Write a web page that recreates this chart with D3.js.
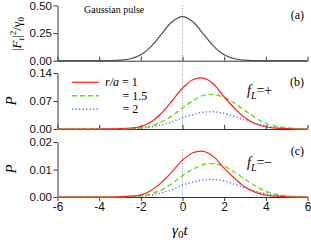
<!DOCTYPE html>
<html>
<head>
<meta charset="utf-8">
<script src="https://cdn.jsdelivr.net/npm/d3@7"></script>
<style>
  body { margin: 0; background: #fff; }
  svg { display: block; }
</style>
</head>
<body>
<script>
// time axis (gamma0 t), sampled every 0.5
const times = [-6, -5.5, -5, -4.5, -4, -3.5, -3, -2.5, -2, -1.5, -1, -0.5, 0,
  0.5, 1, 1.5, 2, 2.5, 3, 3.5, 4, 4.5, 5, 5.5, 6];

// panel (a) gaussian pulse
const pulse = [0, 0, 0, 0, 0.0001, 0.0009, 0.0044, 0.0175, 0.054, 0.13, 0.242, 0.352, 0.399,
  0.352, 0.242, 0.13, 0.054, 0.0175, 0.0044, 0.0009, 0.0001, 0, 0, 0, 0];

// panel (b) f_L = +
const plusR1 = [0, 0, 0, 0, 0, 0.0003, 0.001, 0.0025, 0.006, 0.018, 0.04, 0.07, 0.1025,
  0.123, 0.127, 0.112, 0.08, 0.052, 0.028, 0.013, 0.005, 0.002, 0.001, 0, 0];
const plusR15 = [0, 0, 0, 0, 0, 0, 0.0005, 0.001, 0.003, 0.008, 0.018, 0.033, 0.0525,
  0.071, 0.084, 0.086, 0.079, 0.064, 0.046, 0.028, 0.014, 0.007, 0.003, 0.001, 0];
const plusR2 = [0, 0, 0, 0, 0, 0, 0, 0.0005, 0.002, 0.005, 0.01, 0.018, 0.028,
  0.036, 0.042, 0.043, 0.039, 0.031, 0.022, 0.014, 0.008, 0.004, 0.002, 0.001, 0];

// panel (c) f_L = -
const minusR1 = [0, 0, 0, 0, 0, 0, 0.0001, 0.0003, 0.0008, 0.0024, 0.0053, 0.0092, 0.0134,
  0.0161, 0.0166, 0.0146, 0.0104, 0.0068, 0.0036, 0.0017, 0.0007, 0.0003, 0.0001, 0, 0];
const minusR15 = [0, 0, 0, 0, 0, 0, 0.0001, 0.0002, 0.0004, 0.0012, 0.0026, 0.0049, 0.0078,
  0.0101, 0.0118, 0.0121, 0.0111, 0.009, 0.0065, 0.004, 0.002, 0.001, 0.0004, 0.0001, 0];
const minusR2 = [0, 0, 0, 0, 0, 0, 0, 0.0001, 0.0003, 0.0007, 0.0015, 0.0027, 0.0043,
  0.0054, 0.0062, 0.0064, 0.0058, 0.0046, 0.0033, 0.0021, 0.0012, 0.0006, 0.0003, 0.0001, 0];

const xTicks = [-6, -4, -2, 0, 2, 4, 6];
const ticksA = [0, 0.25, 0.5];
const ticksB = [0, 0.07, 0.14];
const ticksC = [0, 0.01, 0.02];
const legendLabels = ["r/a = 1", "= 1.5", "= 2"];

const width = 311;
const height = 249;

const svg = d3.select("body").append("svg")
  .attr("width", width)
  .attr("height", height);

const x = d3.scaleLinear().domain([-6, 6]).range([57.5, 307.5]);

const panels = [
  { id: "a", top: 5.5, bottom: 60.7, max: 0.5, ticks: ticksA, fmt: ".2f" },
  { id: "b", top: 73, bottom: 129, max: 0.14, ticks: ticksB, fmt: ".2f" },
  { id: "c", top: 142, bottom: 197, max: 0.02, ticks: ticksC, fmt: ".2f" }
];

const styles = [
  { color: "#ff2020", dash: null, w: 1.2 },
  { color: "#66dd11", dash: "5,3", w: 1.4 },
  { color: "#4d6bff", dash: "1.2,2.3", w: 1.4 }
];

const line = (y) => d3.line()
  .x((d) => x(d[0]))
  .y((d) => y(d[1]))
  .curve(d3.curveCatmullRom);

panels.forEach((p, i) => {
  p.y = d3.scaleLinear().domain([0, p.max]).range([p.bottom, p.top]);

  const g = svg.append("g");

  // dotted line at t = 0
  g.append("line")
    .attr("x1", x(0)).attr("x2", x(0))
    .attr("y1", i == 0 ? p.top : (i == 1 ? 61 : 150))
    .attr("y2", p.bottom)
    .attr("stroke", "#8a8a8a")
    .attr("stroke-width", 0.9)
    .attr("stroke-dasharray", "1,1.6");

  const yAxis = d3.axisLeft(p.y).tickValues(p.ticks).tickFormat(d3.format(p.fmt))
    .tickSize(4).tickSizeOuter(0).tickPadding(1.5);
  const ya = g.append("g")
    .attr("transform", `translate(${x(-6)},0)`)
    .call(yAxis);
  ya.selectAll("text").style("font-family", "Liberation Sans, Arial, sans-serif")
    .style("font-size", "11.5px").attr("fill", "#111");

  let xAxis;
  if (i < 2) {
    xAxis = d3.axisBottom(x).tickValues(xTicks).tickFormat("").tickSize(-4).tickSizeOuter(0);
  } else {
    xAxis = d3.axisBottom(x).tickValues(xTicks).tickFormat((d) => d < 0 ? "-" + Math.abs(d) : d)
      .tickSize(4).tickSizeOuter(0).tickPadding(1.5);
  }
  const xa = g.append("g")
    .attr("transform", `translate(0,${p.bottom})`)
    .call(xAxis);
  xa.selectAll("text").style("font-family", "Liberation Sans, Arial, sans-serif")
    .style("font-size", "12px").attr("fill", "#111");

  svg.selectAll(".domain, .tick line").attr("stroke", "#333");

  // panel letter
  g.append("text")
    .attr("x", 304).attr("y", p.top + 13)
    .attr("text-anchor", "end")
    .style("font-family", "Liberation Serif, Times New Roman, serif")
    .style("font-size", "12px")
    .text(`(${p.id})`);
});

// curves
const pA = panels[0];
svg.append("path")
  .attr("d", line(pA.y)(times.map((t, i) => [t, pulse[i]])))
  .attr("fill", "none")
  .attr("stroke", "#4a5252")
  .attr("stroke-width", 1.2);

[[panels[1], [plusR1, plusR15, plusR2]], [panels[2], [minusR1, minusR15, minusR2]]]
  .forEach(([p, series]) => {
    series.slice().reverse().forEach((s, k) => {
      const st = styles[2 - k];
      svg.append("path")
        .attr("d", line(p.y)(times.map((t, i) => [t, s[i]])))
        .attr("fill", "none")
        .attr("stroke", st.color)
        .attr("stroke-width", st.w)
        .attr("stroke-dasharray", st.dash);
    });
  });

const serif = "Liberation Serif, Times New Roman, serif";

svg.append("text")
  .attr("x", 84).attr("y", 13)
  .style("font-family", serif).style("font-size", "10px")
  .text("Gaussian pulse");

// legend
const legY = [82.3, 95.8, 109.3];
styles.forEach((st, i) => {
  svg.append("line")
    .attr("x1", 72).attr("x2", 99)
    .attr("y1", legY[i]).attr("y2", legY[i])
    .attr("stroke", st.color)
    .attr("stroke-width", st.w)
    .attr("stroke-dasharray", st.dash);
});
const leg0 = svg.append("text").attr("x", 105).attr("y", legY[0] + 4)
  .style("font-family", serif).style("font-size", "12px");
leg0.append("tspan").style("font-style", "italic").text("r/a");
leg0.append("tspan").text(" = 1");
svg.append("text").attr("x", 122.5).attr("y", legY[1] + 4)
  .style("font-family", serif).style("font-size", "12px").text(legendLabels[1]);
svg.append("text").attr("x", 122.5).attr("y", legY[2] + 4)
  .style("font-family", serif).style("font-size", "12px").text(legendLabels[2]);

// f_L labels
[["+", 95], ["\u2212", 167]].forEach(([sgn, yy]) => {
  const t = svg.append("text").attr("x", 247).attr("y", yy)
    .style("font-family", serif).style("font-size", "14px");
  t.append("tspan").style("font-style", "italic").text("f");
  t.append("tspan").attr("dy", 4).style("font-size", "10px").style("font-style", "italic").text("L");
  t.append("tspan").attr("dy", -4).text("=" + sgn);
});

// y titles
const ft = svg.append("text")
  .attr("transform", "translate(21,34) rotate(-90)")
  .attr("text-anchor", "middle")
  .style("font-family", serif).style("font-size", "13px");
ft.append("tspan").text("|");
ft.append("tspan").style("font-style", "italic").text("F");
ft.append("tspan").attr("dy", 3).style("font-size", "9px").style("font-style", "italic").text("t");
ft.append("tspan").attr("dy", -3).text("|");
ft.append("tspan").attr("dy", -5).style("font-size", "9px").text("2");
ft.append("tspan").attr("dy", 5).text("/\u03b3");
ft.append("tspan").attr("dy", 3).style("font-size", "9px").text("0");

[101, 169].forEach((cy) => {
  svg.append("text")
    .attr("transform", `translate(16,${cy}) rotate(-90)`)
    .attr("text-anchor", "middle")
    .style("font-family", serif).style("font-size", "15px").style("font-style", "italic")
    .text("P");
});

// x title
const xt = svg.append("text").attr("x", 172).attr("y", 235)
  .style("font-family", serif).style("font-size", "15px");
xt.append("tspan").style("font-style", "italic").text("\u03b3");
xt.append("tspan").attr("dy", 3).style("font-size", "11px").text("0");
xt.append("tspan").attr("dy", -3).style("font-style", "italic").text("t");
</script>
</body>
</html>
